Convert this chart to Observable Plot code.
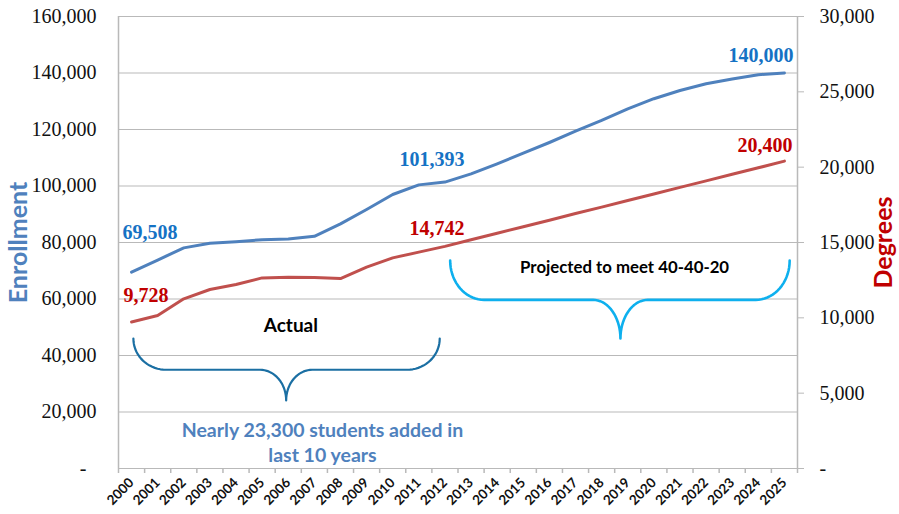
<!DOCTYPE html>
<html>
<head>
<meta charset="utf-8">
<script src="https://cdn.jsdelivr.net/npm/d3@7"></script>
<script src="https://cdn.jsdelivr.net/npm/@observablehq/plot@0.6"></script>
<style>
  html, body { margin: 0; padding: 0; background: #fff; }
  #chart svg { display: block; }
</style>
</head>
<body>
<div id="chart"></div>
<script>
// Fall enrollment (left axis) and degrees awarded (right axis), actual 2000–2012, projected 2013–2025
const years = [2000, 2001, 2002, 2003, 2004, 2005, 2006, 2007, 2008, 2009, 2010, 2011, 2012,
               2013, 2014, 2015, 2016, 2017, 2018, 2019, 2020, 2021, 2022, 2023, 2024, 2025];
const enrollment = [69508, 73800, 78100, 79700, 80300, 81000, 81200, 82200, 86600, 91700, 97000, 100400, 101393,
                    104300, 107850, 111600, 115400, 119400, 123200, 127300, 130900, 133800, 136200, 137900, 139400, 140000];
const degrees = [9728, 10150, 11260, 11880, 12210, 12650, 12700, 12680, 12610, 13360, 13980, 14360, 14742,
                 15180, 15610, 16050, 16480, 16920, 17350, 17790, 18220, 18660, 19090, 19530, 19960, 20400];

const enrollmentTicks = [0, 20000, 40000, 60000, 80000, 100000, 120000, 140000, 160000];
const degreeTicks = [0, 5000, 10000, 15000, 20000, 25000, 30000];

const rows = years.map((year, i) => ({year, enrollment: enrollment[i], degrees: degrees[i]}));

// degrees share the enrollment y scale: 30,000 degrees at the top of the 160,000 enrollment axis
const k = 160000 / 30000;
const fmt = d3.format(",");

const colors = {
  enrollLine: "#4F81BD",
  degreeLine: "#C0504D",
  enrollText: "#1572C4",
  degreeText: "#C00000",
  grid: "#b9b9b9",
  braceActual: "#1B6FA3",
  braceProjected: "#0EB0EE"
};

const serif = "'Liberation Serif', 'DejaVu Serif', serif";
const sans = "Lato, 'Open Sans', 'Liberation Sans', sans-serif";

// curly brace drawn in data space: ends at yTop, bar at yMid, tip at yTip
function brace({x1, x2, xm, yTop, yMid, yTip, rEnd, rMid}) {
  const pts = [];
  const n = 18;
  const arc = (cx, cy, rx, ry, t0, t1) => {
    for (let j = 0; j <= n; ++j) {
      const t = t0 + (t1 - t0) * j / n;
      pts.push({x: cx + rx * Math.cos(t), y: cy + ry * Math.sin(t)});
    }
  };
  const ryEnd = yTop - yMid, ryMid = yMid - yTip;
  arc(x1 + rEnd, yTop, rEnd, ryEnd, Math.PI, 1.5 * Math.PI);
  arc(xm - rMid, yTip, rMid, ryMid, 0.5 * Math.PI, 0);
  arc(xm + rMid, yTip, rMid, ryMid, Math.PI, 0.5 * Math.PI);
  arc(x2 - rEnd, yTop, rEnd, ryEnd, 1.5 * Math.PI, 2 * Math.PI);
  return pts;
}

const actualBrace = brace({x1: 2000.07, x2: 2011.8, xm: 2005.92, yTop: 46000, yMid: 34950, yTip: 24100, rEnd: 1.25, rMid: 1.0});
const projectedBrace = brace({x1: 2012.2, x2: 2025.2, xm: 2018.72, yTop: 73600, yMid: 59700, yTip: 46000, rEnd: 1.3, rMid: 1.05});

// value callout placed relative to one year's point on a series
function callout(year, value, yValue, fill, anchor, dx, dy) {
  const row = rows.find(d => d.year === year);
  return Plot.text([row], {
    x: "year", y: yValue, text: d => fmt(value(d)),
    textAnchor: anchor, dx, dy,
    fontSize: 20, fontWeight: "bold", fontFamily: serif, fill
  });
}
const enr = d => d.enrollment;
const deg = d => d.degrees;
const degY = d => d.degrees * k;

const chart = Plot.plot({
  width: 899,
  height: 514,
  marginLeft: 118,
  marginRight: 102,
  marginTop: 16,
  marginBottom: 46,
  style: {background: "#fff", overflow: "visible"},
  x: {type: "linear", domain: [1999.5, 2025.5]},
  y: {domain: [0, 160000]},
  marks: [
    Plot.gridY(enrollmentTicks, {stroke: colors.grid, strokeOpacity: 1, strokeWidth: 1.2}),
    Plot.ruleX([1999.5, 2025.5], {stroke: colors.grid, strokeWidth: 1.5}),
    // left axis (enrollment)
    Plot.axisY(enrollmentTicks, {
      anchor: "left", tickSize: 0, tickPadding: 22, label: null,
      tickFormat: d => d === 0 ? "-\u2007" : fmt(d),
      fontSize: 20, fontFamily: serif, fill: "#111"
    }),
    // right axis (degrees)
    Plot.axisY(degreeTicks.map(d => d * k), {
      anchor: "right", tickSize: 6, tickPadding: 16, label: null, stroke: colors.grid,
      tickFormat: d => d === 0 ? "-" : fmt(Math.round(d / k)),
      fontSize: 20, fontFamily: serif, fill: "#111"
    }),
    // category tick marks between years, and rotated year labels
    Plot.axisX(d3.range(1999.5, 2026, 1), {
      tickSize: 5, tickFormat: () => "", label: null, stroke: colors.grid, strokeWidth: 1.5
    }),
    Plot.axisX(years, {
      tickSize: 0, tickPadding: 12, tickRotate: -45, label: null,
      tickFormat: d => String(d),
      fontSize: 13.5, fontWeight: "bold", fontFamily: sans, fill: "#111"
    }),
    // axis titles
    Plot.text(["Enrollment"], {
      frameAnchor: "left", textAnchor: "middle", dx: -100, rotate: -90, text: d => d,
      fontSize: 25, fontWeight: "bold", fontFamily: sans, fill: colors.enrollLine
    }),
    Plot.text(["Degrees"], {
      frameAnchor: "right", textAnchor: "middle", dx: 86, rotate: -90, text: d => d,
      fontSize: 25, fontWeight: "bold", fontFamily: sans, fill: colors.degreeText
    }),
    // series
    Plot.line(rows, {x: "year", y: "enrollment", stroke: colors.enrollLine, strokeWidth: 3}),
    Plot.line(rows, {x: "year", y: degY, stroke: colors.degreeLine, strokeWidth: 3}),
    // value callouts
    callout(2000, enr, "enrollment", colors.enrollText, "start", -9, -40),
    callout(2012, enr, "enrollment", colors.enrollText, "middle", -13, -22),
    callout(2025, enr, "enrollment", colors.enrollText, "end", 9, -17),
    callout(2000, deg, degY, colors.degreeText, "start", -8, -26),
    callout(2012, deg, degY, colors.degreeText, "middle", -8, -18),
    callout(2025, deg, degY, colors.degreeText, "end", 8, -16),
    // braces and their notes
    Plot.line(actualBrace, {x: "x", y: "y", stroke: colors.braceActual, strokeWidth: 2.2}),
    Plot.line(projectedBrace, {x: "x", y: "y", stroke: colors.braceProjected, strokeWidth: 2.6}),
    Plot.text([{x: 2006.1, y: 50600, t: "Actual"}], {
      x: "x", y: "y", text: "t", fontSize: 19, fontWeight: "bold", fontFamily: sans, fill: "#000"
    }),
    Plot.text([{x: 2018.88, y: 71150, t: "Projected to meet 40-40-20"}], {
      x: "x", y: "y", text: "t", fontSize: 16.8, fontWeight: "bold", fontFamily: sans, fill: "#000"
    }),
    Plot.text([{x: 2007.31, y: 9500, t: "Nearly 23,300 students added in\nlast 10 years"}], {
      x: "x", y: "y", text: "t", lineHeight: 1.3, fontSize: 19.5, fontWeight: "bold", fontFamily: sans, fill: colors.enrollLine
    })
  ]
});

document.getElementById("chart").append(chart);
</script>
</body>
</html>
